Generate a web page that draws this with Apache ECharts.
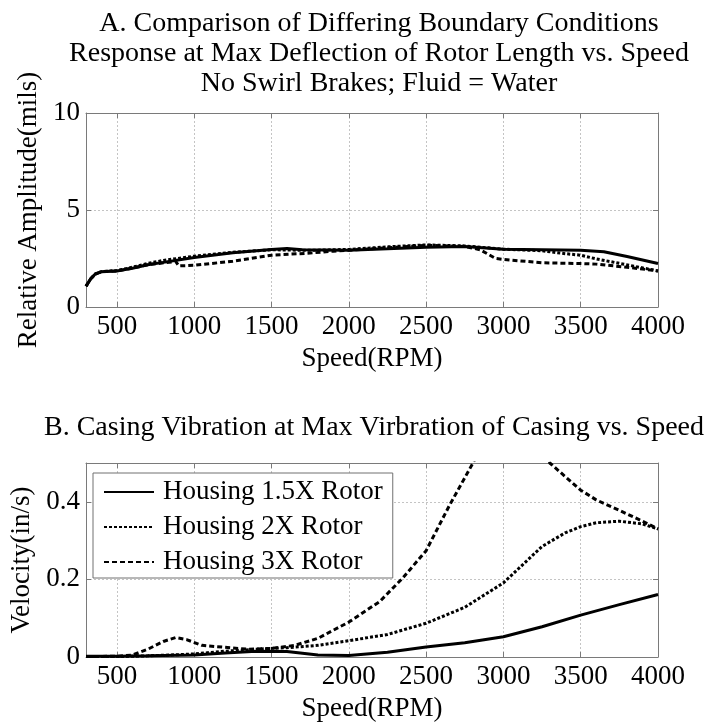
<!DOCTYPE html>
<html>
<head>
<meta charset="utf-8">
<script src="https://cdn.jsdelivr.net/npm/echarts@6/dist/echarts.min.js"></script>
<style>html,body{margin:0;padding:0;background:#fff}#c{width:718px;height:723px}</style>
</head>
<body>
<div id="c"></div>
<script>
// ---- Data ----
const titleA = 'A. Comparison of Differing Boundary Conditions\nResponse at Max Deflection of Rotor Length vs. Speed\nNo Swirl Brakes; Fluid = Water';
const titleB = 'B. Casing Vibration at Max Virbration of Casing vs. Speed';
const seriesNames = ['Housing 1.5X Rotor', 'Housing 2X Rotor', 'Housing 3X Rotor'];
const xAxisName = 'Speed(RPM)';
const yNameA = 'Relative Amplitude(mils)';
const yNameB = 'Velocity(in/s)';

// Panel A: relative amplitude (mils) vs speed (RPM)
const aRpm1 = [300, 330, 360, 400, 500, 600, 700, 800, 1000, 1250, 1500, 1600, 1700, 2000, 2250, 2500, 2750, 3000, 3250, 3500, 3650, 3800, 4000];
const aAmp1 = [1.07, 1.45, 1.7, 1.82, 1.86, 2.0, 2.18, 2.3, 2.55, 2.8, 2.97, 3.02, 2.95, 2.93, 3.0, 3.08, 3.12, 2.98, 2.95, 2.92, 2.85, 2.6, 2.24];
const aRpm2 = [300, 330, 360, 400, 500, 600, 700, 800, 1000, 1250, 1500, 1750, 2000, 2250, 2500, 2750, 2900, 3000, 3250, 3400, 3500, 3600, 3750, 4000];
const aAmp2 = [1.07, 1.45, 1.7, 1.82, 1.88, 2.05, 2.25, 2.4, 2.62, 2.82, 2.95, 2.92, 2.97, 3.1, 3.2, 3.15, 3.05, 2.98, 2.9, 2.75, 2.67, 2.48, 2.25, 1.86];
const aRpm3 = [300, 330, 360, 400, 500, 600, 700, 880, 900, 1000, 1250, 1500, 1750, 1900, 2000, 2250, 2500, 2750, 2850, 2950, 3000, 3250, 3500, 3600, 3800, 4000];
const aAmp3 = [1.07, 1.45, 1.7, 1.82, 1.86, 2.0, 2.18, 2.35, 2.12, 2.15, 2.36, 2.67, 2.78, 2.88, 2.93, 3.05, 3.18, 3.12, 2.95, 2.5, 2.45, 2.28, 2.24, 2.21, 2.05, 1.86];

// Panel B: velocity (in/s) vs speed (RPM)
const bRpm1 = [300, 500, 700, 1000, 1200, 1400, 1600, 1800, 2000, 2250, 2500, 2750, 3000, 3250, 3500, 3750, 4000];
const bVel1 = [0.002, 0.002, 0.003, 0.005, 0.01, 0.015, 0.014, 0.005, 0.004, 0.012, 0.026, 0.037, 0.052, 0.078, 0.108, 0.135, 0.161];
const bRpm2 = [300, 500, 700, 900, 1000, 1200, 1400, 1600, 1800, 2000, 2250, 2500, 2750, 3000, 3250, 3400, 3500, 3600, 3750, 3900, 4000];
const bVel2 = [0.001, 0.001, 0.003, 0.006, 0.008, 0.015, 0.02, 0.024, 0.03, 0.042, 0.058, 0.087, 0.128, 0.191, 0.285, 0.32, 0.336, 0.346, 0.35, 0.343, 0.33];
const bRpm3 = [300, 500, 600, 700, 800, 880, 950, 1050, 1200, 1350, 1500, 1650, 1800, 2000, 2200, 2350, 2500, 2650, 2810, 2950, 3100, 3250, 3300, 3400, 3500, 3600, 3750, 3900, 4000];
const bVel3 = [0.001, 0.002, 0.005, 0.02, 0.04, 0.05, 0.045, 0.03, 0.025, 0.02, 0.022, 0.03, 0.048, 0.09, 0.143, 0.204, 0.274, 0.39, 0.505, 0.62, 0.64, 0.54, 0.5, 0.465, 0.43, 0.405, 0.378, 0.35, 0.33];

const xTicks = [500, 1000, 1500, 2000, 2500, 3000, 3500, 4000];
const yTicksA = [0, 5, 10];
const yTicksB = [0, 0.2, 0.4];

// ---- Chart ----
const FONT = 'Liberation Serif';
const BOX = '#7a7a7a';
const GRIDC = '#c4c4c4';
const chart = echarts.init(document.getElementById('c'), null, {renderer: 'canvas'});
const pair = (xs, ys) => xs.map((x, i) => [x, ys[i]]);
const styles = [
  {type: 'solid', width: 3},
  {type: [3, 2], width: 3},
  {type: [5, 3], width: 3}
];

function mkX(gridIndex, mirror) {
  return {
    type: 'value', gridIndex, min: 300, max: 4000,
    position: mirror ? 'top' : 'bottom',
    name: mirror ? '' : xAxisName, nameLocation: 'middle', nameGap: 38,
    nameTextStyle: {fontFamily: FONT, fontSize: 27, color: '#000'},
    axisLine: {show: true, onZero: false, lineStyle: {color: BOX, width: 1}},
    axisTick: {show: true, inside: true, length: 5, lineStyle: {color: BOX}, customValues: xTicks},
    axisLabel: {show: !mirror, margin: 6, fontFamily: FONT, fontSize: 27, color: '#000',
      customValues: xTicks, formatter: v => String(v)},
    splitLine: {show: !mirror, lineStyle: {color: GRIDC, type: [2, 2], width: 1}}
  };
}
function mkY(gridIndex, mirror, max, interval, ticks, name, gap) {
  return {
    type: 'value', gridIndex, min: 0, max, interval,
    position: mirror ? 'right' : 'left',
    name: mirror ? '' : name, nameLocation: 'middle', nameGap: gap,
    nameTextStyle: {fontFamily: FONT, fontSize: 27, color: '#000'},
    axisLine: {show: true, onZero: false, lineStyle: {color: BOX, width: 1}},
    axisTick: {show: true, inside: true, length: 5, lineStyle: {color: BOX}},
    axisLabel: {show: !mirror, margin: 6, fontFamily: FONT, fontSize: 27, color: '#000',
      formatter: v => ticks.some(t => Math.abs(t - v) < 1e-9) ? String(+v.toFixed(2)) : ''},
    splitLine: {show: !mirror, lineStyle: {color: GRIDC, type: [2, 2], width: 1}}
  };
}
function mkSeries(name, data, k, xi, yi) {
  return {
    type: 'line', name, data, xAxisIndex: xi, yAxisIndex: yi,
    symbol: 'none', smooth: false, clip: true, z: 3 + (2 - k),
    lineStyle: {color: '#000', width: styles[k].width, type: styles[k].type},
    itemStyle: {color: '#000'}
  };
}

const option = {
  animation: false,
  backgroundColor: '#fff',
  title: [
    {text: titleA, left: 374, top: 4, textAlign: 'center',
     textStyle: {fontFamily: FONT, fontSize: 28, fontWeight: 'normal', color: '#000', lineHeight: 30}},
    {text: titleB, left: 369, top: 408, textAlign: 'center',
     textStyle: {fontFamily: FONT, fontSize: 28, fontWeight: 'normal', color: '#000', lineHeight: 30}}
  ],
  grid: [
    {left: 86, width: 572, top: 113, height: 194, show: false},
    {left: 86, width: 572, top: 463, height: 194, show: false}
  ],
  legend: {
    data: seriesNames,
    left: 93, top: 473, orient: 'vertical',
    padding: [4, 10, 1, 10], itemGap: 5, itemWidth: 50, itemHeight: 30,
    backgroundColor: '#fff', borderColor: '#707070', borderWidth: 1, borderRadius: 0,
    itemStyle: {opacity: 0, borderWidth: 0},
    textStyle: {fontFamily: FONT, fontSize: 27, color: '#000', lineHeight: 30, padding: [0, 0, 0, 4]},
    selectedMode: false
  },
  xAxis: [mkX(0, false), mkX(1, false), mkX(0, true), mkX(1, true)],
  yAxis: [
    mkY(0, false, 10, 5, yTicksA, yNameA, 40),
    mkY(1, false, 0.5, 0.2, yTicksB, yNameB, 45),
    mkY(0, true, 10, 5, yTicksA, '', 0),
    mkY(1, true, 0.5, 0.2, yTicksB, '', 0)
  ],
  series: [
    mkSeries(seriesNames[0], pair(aRpm1, aAmp1), 0, 0, 0),
    mkSeries(seriesNames[1], pair(aRpm2, aAmp2), 1, 0, 0),
    mkSeries(seriesNames[2], pair(aRpm3, aAmp3), 2, 0, 0),
    mkSeries(seriesNames[0], pair(bRpm1, bVel1), 0, 1, 1),
    mkSeries(seriesNames[1], pair(bRpm2, bVel2), 1, 1, 1),
    mkSeries(seriesNames[2], pair(bRpm3, bVel3), 2, 1, 1)
  ]
};
chart.setOption(option);
</script>
</body>
</html>
